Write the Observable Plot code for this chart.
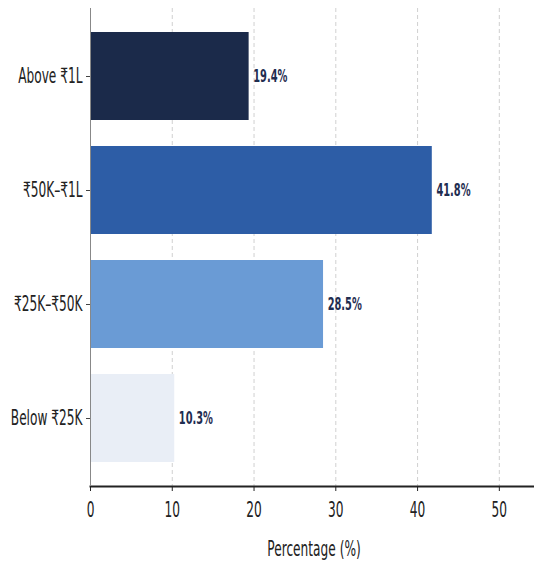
<!DOCTYPE html>
<html>
<head>
<meta charset="utf-8">
<script src="https://cdn.jsdelivr.net/npm/d3@7"></script>
<script src="https://cdn.jsdelivr.net/npm/@observablehq/plot@0.6"></script>
<style>
  html, body { margin: 0; padding: 0; background: #fff; }
</style>
</head>
<body>
<div id="chart"></div>
<script>
const categories = ["Above ₹1L", "₹50K–₹1L", "₹25K–₹50K", "Below ₹25K"];
const values = [19.4, 41.8, 28.5, 10.3];
const colors = ["#1b2a4a", "#2d5da6", "#6a9bd5", "#e9eef6"];
const xTicks = [0, 10, 20, 30, 40, 50];
const xLabel = "Percentage (%)";

const data = categories.map((c, i) => ({category: c, value: values[i], color: colors[i]}));

const chart = Plot.plot({
  width: 534,
  height: 563,
  marginLeft: 90,
  marginRight: 0,
  marginTop: 8,
  marginBottom: 77,
  style: {fontFamily: "'DejaVu Sans', sans-serif", fontSize: "21px", color: "#222"},
  x: {domain: [0, 54.3], ticks: xTicks, label: null},
  y: {domain: categories, padding: 0.23, paddingOuter: 0.21, label: null},
  marks: [
    Plot.gridX(xTicks, {stroke: "#c4c4c4", strokeDasharray: "4,3", strokeOpacity: 0.8}),
    Plot.barX(data, {y: "category", x: "value", fill: "color"}),
    Plot.text(data, {y: "category", x: d => d.value + 0.5, text: d => d.value.toFixed(1) + "%", textAnchor: "start", fill: "#1f2d50", fontWeight: "bold", fontSize: 17}),
    Plot.axisY({tickSize: 4, tickPadding: 4, fontSize: 21, label: null, stroke: "#444"}),
    Plot.frame({anchor: "bottom", stroke: "#222", strokeWidth: 2}),
    Plot.axisX({ticks: xTicks, tickSize: 5, tickPadding: 11, fontSize: 21, label: null}),
    Plot.ruleX([0], {stroke: "#888", strokeWidth: 1})
  ]
});

document.getElementById("chart").appendChild(chart);

// x-axis title
const svg = d3.select(chart);
svg.append("text")
  .attr("transform", `translate(314,556)`)
  .attr("text-anchor", "middle")
  .attr("font-size", 21)
  .attr("fill", "#222")
  .text(xLabel);

// condense all text horizontally (the reference typeface is narrow)
const sx = 0.58;
svg.selectAll("text").each(function() {
  const t = this.getAttribute("transform") || "";
  this.setAttribute("transform", `${t} scale(${sx},1)`);
});
</script>
</body>
</html>
